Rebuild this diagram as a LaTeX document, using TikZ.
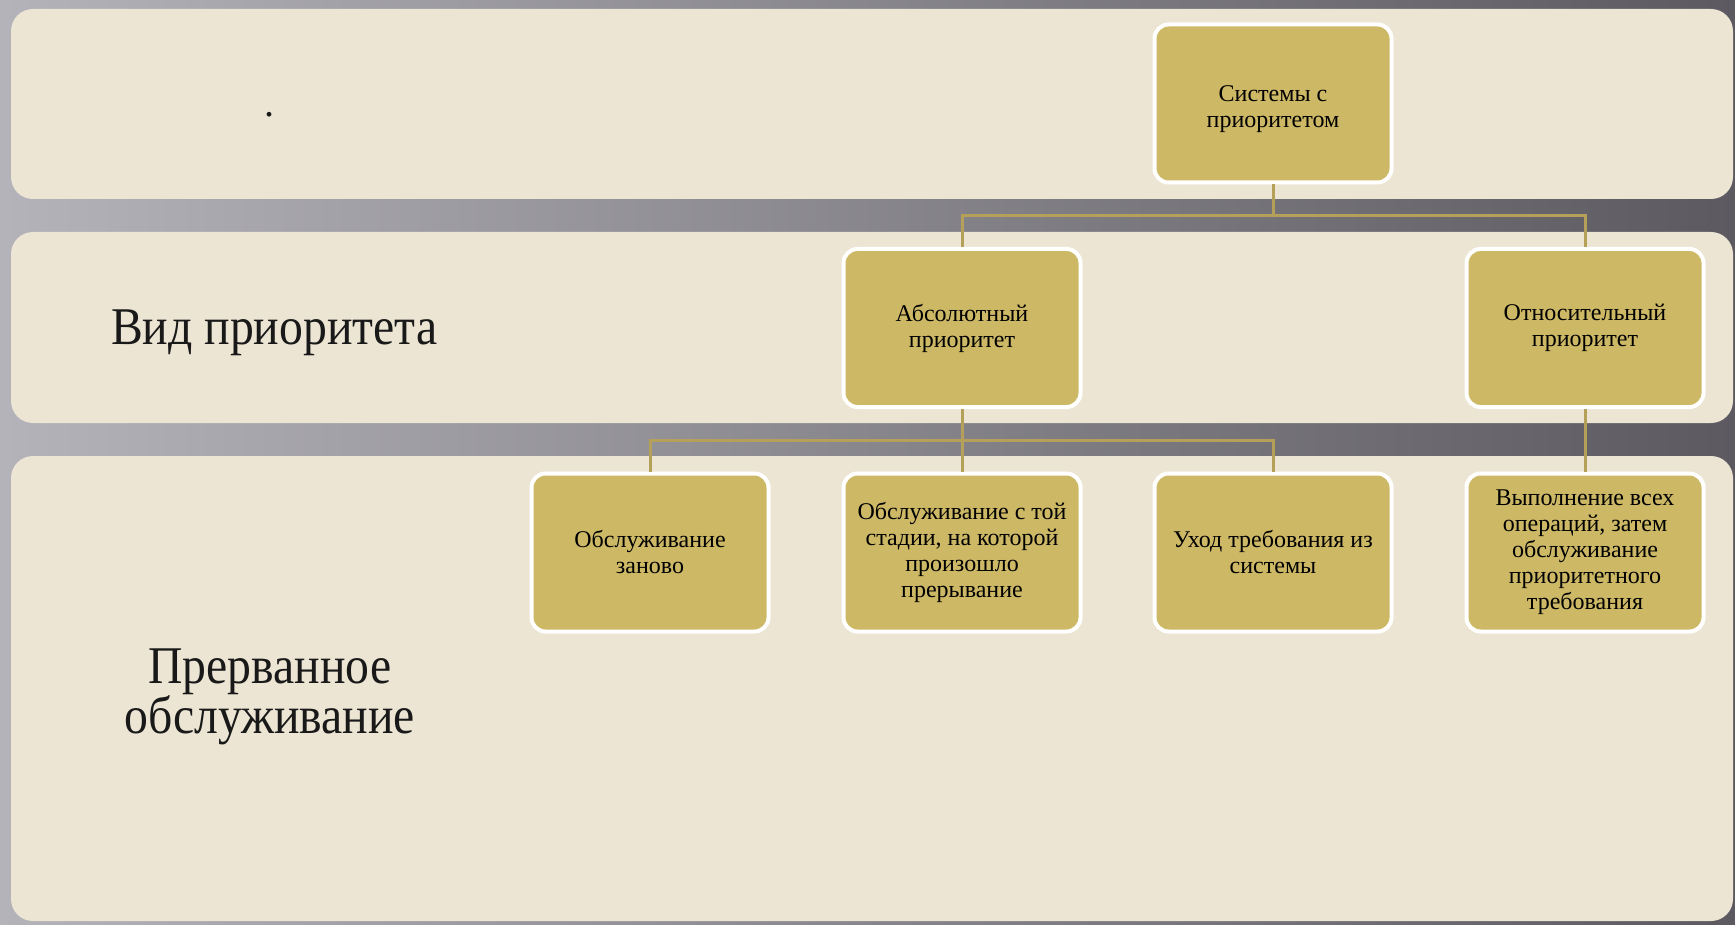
\documentclass[tikz,border=0pt]{standalone}
\usepackage{fontspec}
\setmainfont{Liberation Serif}
\newfontfamily\condserif[FakeStretch=0.9]{Liberation Serif}
\definecolor{bgL}{HTML}{B5B3BA}
\definecolor{bgM}{HTML}{87858B}
\definecolor{bgR}{HTML}{5C5A60}
\definecolor{band}{HTML}{ECE5D4}
\definecolor{gold}{HTML}{CDB866}
\definecolor{goldline}{HTML}{B5A05A}
\tikzset{
  bandbox/.style={fill=band, draw=none, rounded corners=11pt},
  gbox/.style={fill=gold, draw=white, line width=2pt, rounded corners=7pt,
    minimum width=118.5pt, minimum height=79pt, align=center, inner sep=2pt,
    font=\fontsize{12}{13}\selectfont, text=black},
  conn/.style={draw=goldline, line width=1.5pt},
  biglabel/.style={font=\condserif\fontsize{26.5}{25}\selectfont, align=center, text=black!90}
}
\begin{document}
\begin{tikzpicture}[x=0.5pt, y=-0.5pt]
\useasboundingbox (0,0) rectangle (1735,925);
\shade[left color=bgL, middle color=bgM, right color=bgR] (0,0) rectangle (1735,925);
% bands
\path[bandbox] (11,9) rectangle (1733,199);
\path[bandbox] (11,232) rectangle (1733,423);
\path[bandbox] (11,456) rectangle (1733,921);
% left labels
\node[font=\fontsize{20}{20}\selectfont, text=black!90] (dot) at (269,115) {.};
\node[biglabel, anchor=west] (vid) at (104,333) {Вид приоритета};
\node[biglabel] (prer) at (270,697) {Прерванное\\обслуживание};
% boxes
\node[gbox] (top) at (1273,103.5) {\rule{0pt}{14pt}Системы с\\приоритетом};
\node[gbox] (abs) at (962,328) {Абсолютный\\приоритет};
\node[gbox] (rel) at (1585,328) {Относительный\\приоритет};
\node[gbox] (A) at (650,552.5) {Обслуживание\\заново};
\node[gbox] (B) at (962,552.5) {Обслуживание с той\\стадии, на которой\\произошло\\прерывание};
\node[gbox] (C) at (1273,552.5) {Уход требования из\\системы};
\node[gbox] (D) at (1585,552.5) {Выполнение всех\\операций, затем\\обслуживание\\приоритетного\\требования};
% connectors
\coordinate (j1) at (1273,216);
\coordinate (j2) at (962,440);
\draw[conn] (top.south) -- (j1) -| (abs.north);
\draw[conn] (j1) -| (rel.north);
\draw[conn] (abs.south) -- (j2) -| (A.north);
\draw[conn] (j2) -| (C.north);
\draw[conn] (j2) -- (B.north);
\draw[conn] (rel.south) -- (D.north);
\end{tikzpicture}
\end{document}
